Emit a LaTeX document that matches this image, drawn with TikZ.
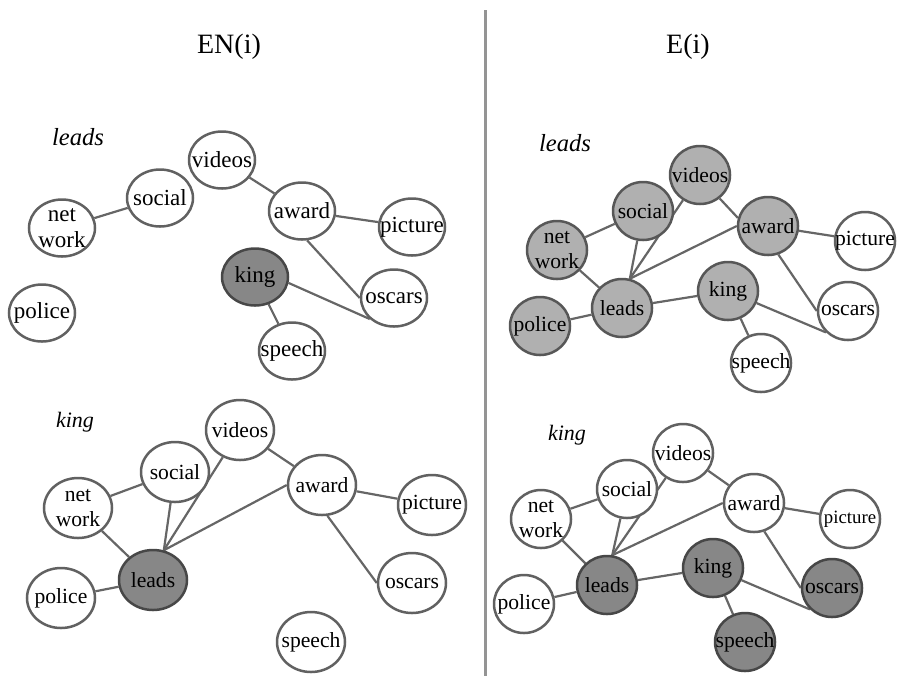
\documentclass[tikz,border=0pt]{standalone}
\usepackage{fontspec}
\setmainfont{Liberation Serif}
\usetikzlibrary{shapes.geometric,backgrounds,positioning}
\tikzset{
  wtext/.style={inner sep=0pt, align=center, font=\fontsize{11.5}{13}\selectfont},
  word/.style={ellipse, draw=black!62, line width=1.25pt, fill=white,
               inner sep=0pt, minimum width=33pt, minimum height=28.5pt,
               label={[wtext]center:#1}},
  smallword/.style={word=#1, minimum width=30pt, minimum height=29pt},
  hit/.style={fill=black!47, draw=black!72},
  near/.style={fill=black!31, draw=black!66},
  link/.style={draw=black!60, line width=1.1pt},
  query/.style={font=\fontsize{12.3}{14}\selectfont\itshape},
  head/.style={font=\fontsize{14}{16}\selectfont}
}
\begin{document}
\begin{tikzpicture}[x=0.5pt,y=-0.5pt]
  \useasboundingbox (0,0) rectangle (898,676);

  % headers and divider
  \node[head] (hen) at (229,47) {EN(i)};
  \node[head] (he) at (688,47) {E(i)};
  \coordinate (divtop) at (485,10);
  \coordinate (divbot) at (485,676);
  \draw[black!42, line width=1.5pt] (divtop) -- (divbot);

  % EN(i), query leads
  \node[query] (A-q) at (78,137) {leads};
  \node[word=videos] (A-videos) at (222,160) {};
  \node[word=social] (A-social) at (160,198) {};
  \node[word={net\\work}] (A-network) at (62,228) {};
  \node[word=award] (A-award) at (302,211) {};
  \node[word=picture] (A-picture) at (412,227) {};
  \node[word=king,hit] (A-king) at (255,277) {};
  \node[word=oscars] (A-oscars) at (394,298) {};
  \node[word=police] (A-police) at (42,313) {};
  \node[word=speech] (A-speech) at (292,351) {};
  \begin{scope}[on background layer]
    \foreach \a/\b in {network/social, videos/award, award/picture,
        award.-80/oscars.west, king.-10/oscars.south west, king/speech}
      \draw[link] (A-\a) -- (A-\b);
  \end{scope}

  % E(i), query leads
  \begin{scope}[wtext/.append style={font=\fontsize{10.8}{12.5}\selectfont}]
  \node[query] (B-q) at (565,143) {leads};
  \node[smallword=videos,near] (B-videos) at (700,175) {};
  \node[smallword=social,near] (B-social) at (643,211) {};
  \node[smallword={net\\work},near] (B-network) at (557,250) {};
  \node[smallword=award,near] (B-award) at (768,226) {};
  \node[smallword=picture] (B-picture) at (865,241) {};
  \node[smallword=leads,near] (B-leads) at (622,308) {};
  \node[smallword=police,near] (B-police) at (540,326) {};
  \node[smallword=king,near] (B-king) at (728,291) {};
  \node[smallword=oscars] (B-oscars) at (848,311) {};
  \node[smallword=speech] (B-speech) at (761,363) {};
  \begin{scope}[on background layer]
    \foreach \a/\b in {network/social, network/leads, police/leads,
        leads.75/social, leads.75/videos, leads.75/award.west,
        videos.-50/award.165, award/picture, award.-70/oscars.west,
        leads/king, king/oscars.south west, king/speech}
      \draw[link] (B-\a) -- (B-\b);
  \end{scope}
  \end{scope}

  % EN(i), query king
  \begin{scope}[word/.append style={minimum width=34pt, minimum height=30pt},
                wtext/.append style={font=\fontsize{10.8}{12.5}\selectfont}]
  \node[query,font=\fontsize{11}{13}\selectfont\itshape] (C-q) at (75,422) {king};
  \node[word=videos] (C-videos) at (240,430) {};
  \node[word=social] (C-social) at (175,472) {};
  \node[word={net\\work}] (C-network) at (78,508) {};
  \node[word=award] (C-award) at (322,485) {};
  \node[word=picture] (C-picture) at (432,505) {};
  \node[word=leads,hit] (C-leads) at (153,580) {};
  \node[word=police] (C-police) at (61,598) {};
  \node[word=oscars] (C-oscars) at (412,583) {};
  \node[word=speech] (C-speech) at (311,642) {};
  \begin{scope}[on background layer]
    \foreach \a/\b in {network/social, network/leads, police/leads,
        leads.70/social, leads.70/videos, leads.70/award.west,
        videos/award, award/picture, award.-80/oscars.west}
      \draw[link] (C-\a) -- (C-\b);
  \end{scope}
  \end{scope}

  % E(i), query king
  \begin{scope}[wtext/.append style={font=\fontsize{10.8}{12.5}\selectfont}]
  \node[query,font=\fontsize{11}{13}\selectfont\itshape] (D-q) at (567,435) {king};
  \node[smallword=videos] (D-videos) at (683,453) {};
  \node[smallword=social] (D-social) at (627,489) {};
  \node[smallword={net\\work}] (D-network) at (541,519) {};
  \node[smallword=award] (D-award) at (754,503) {};
  \node[smallword={\fontsize{9.4}{11}\selectfont picture}] (D-picture) at (850,519) {};
  \node[smallword=leads,hit] (D-leads) at (607,585) {};
  \node[smallword=police] (D-police) at (524,604) {};
  \node[smallword=king,hit] (D-king) at (713,568) {};
  \node[smallword=oscars,hit] (D-oscars) at (832,588) {};
  \node[smallword=speech,hit] (D-speech) at (745,642) {};
  \begin{scope}[on background layer]
    \foreach \a/\b in {network/social, network/leads, police/leads,
        leads.80/social, leads.80/videos, leads.80/award.west,
        videos/award, award/picture, award.-70/oscars.west,
        leads/king, king/oscars.south west, king/speech}
      \draw[link] (D-\a) -- (D-\b);
  \end{scope}
  \end{scope}
\end{tikzpicture}
\end{document}
